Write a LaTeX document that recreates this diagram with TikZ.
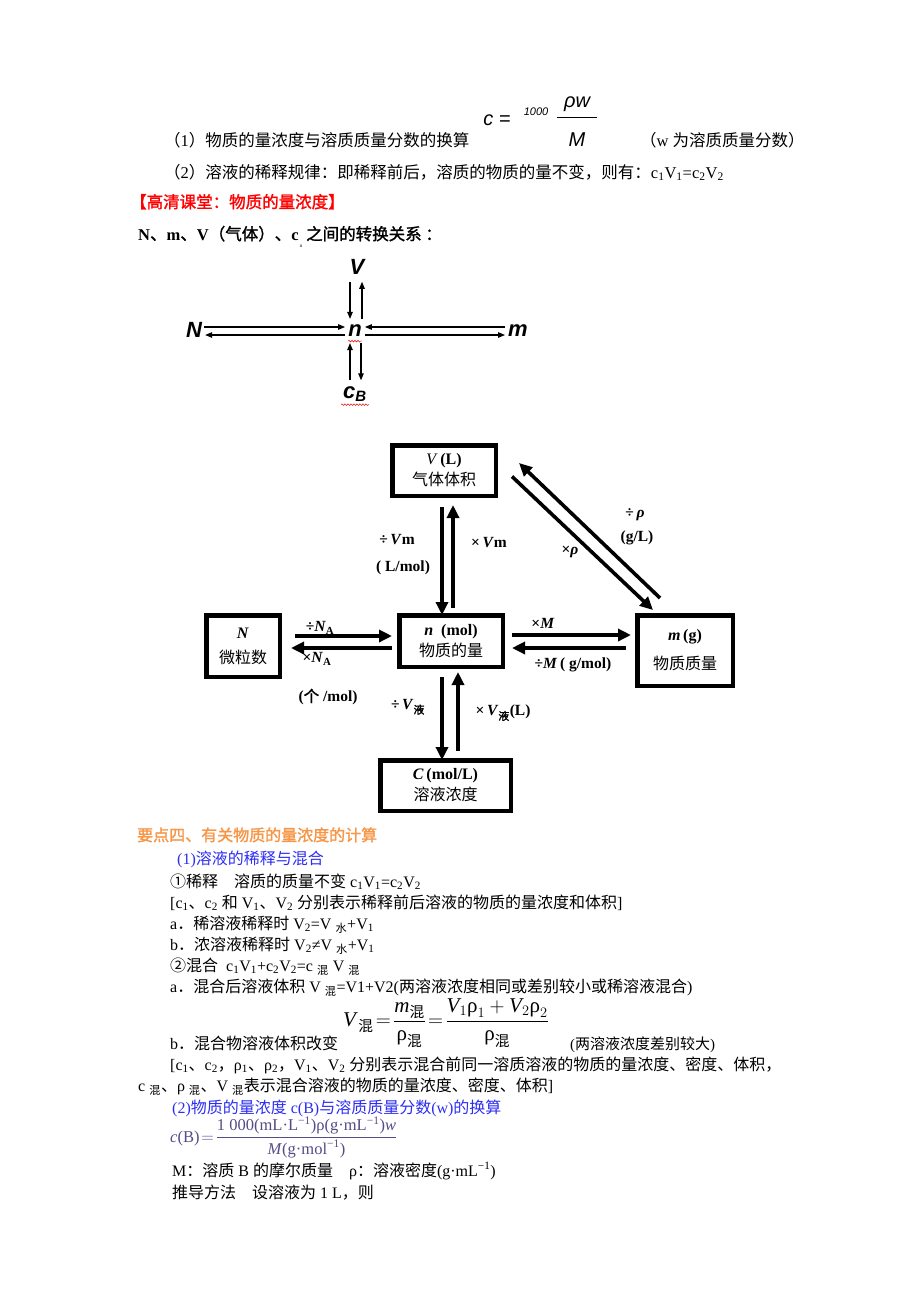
\documentclass[tikz,border=0pt]{standalone}
\usepackage{fontspec}
\usepackage{amsmath}
\usepackage{xcolor}
\usetikzlibrary{arrows.meta}
\usetikzlibrary{decorations.pathmorphing}
\setmainfont{Liberation Serif}
\newfontfamily\cjk{Noto Sans CJK SC}[AutoFakeBold=1.5]
\newfontfamily\arial{Liberation Sans}
\definecolor{titlered}{RGB}{255,0,0}
\definecolor{headorange}{RGB}{247,150,70}
\definecolor{subblue}{RGB}{45,45,245}
\definecolor{formpurple}{RGB}{85,75,135}
\definecolor{spellred}{RGB}{225,40,40}
\newcommand\z[1]{{\cjk #1}}
\newcommand\sub[1]{\textsubscript{#1}}
\newcommand\sups[1]{\textsuperscript{#1}}

\begin{document}
\begin{tikzpicture}[x=1pt,y=-1pt,
	body/.style={anchor=base west,inner sep=0pt,font=\fontsize{16}{20}\selectfont},
	qbox/.style={draw,line width=4.5pt,align=center,inner sep=0pt,font=\fontsize{16}{21}\selectfont},
	fatarr/.style={line width=3.6pt,-{Triangle[length=13pt,width=12pt]}},
	slimarr/.style={line width=1.1pt,-{Triangle[length=7pt,width=5.5pt]}},
	lbl/.style={inner sep=0pt,font=\fontsize{15.5}{18}\selectfont\bfseries},
	sym/.style={inner sep=0pt,font=\arial\bfseries\itshape\fontsize{22}{24}\selectfont},
	wavy/.style={spellred,line width=0.6pt,decorate,decoration={snake,amplitude=0.8pt,segment length=3pt}}]
	\useasboundingbox[fill=white] (0,0) rectangle (920,1302);
	
	% TOP LINES
	\node[inner sep=0pt,font=\arial\itshape\fontsize{20}{22}\selectfont] (fc) at (497,120) {c =};
	\node[inner sep=0pt,font=\arial\itshape\fontsize{11}{12}\selectfont] (f1000) at (536,112) {1000};
	\node[inner sep=1pt,font=\arial\itshape\fontsize{20}{22}\selectfont] (fnum) at (577,104) {ρw};
	\node[inner sep=0pt,font=\arial\itshape\fontsize{20}{22}\selectfont] (fden) at (577,140) {M};
	\draw[line width=0.9pt] ([xshift=-6pt,yshift=-5pt]fnum.south west) -- ([xshift=6pt,yshift=-5pt]fnum.south east);
	\node[body,font=\fontsize{16.5}{20}\selectfont] (t1) at (164,146) {\z{（}1\z{）物质的量浓度与溶质质量分数的换算}};
	\node[body,font=\fontsize{16.5}{20}\selectfont] (t1b) at (640,146) {\z{（}w \z{为溶质质量分数）}};
	\node[body,font=\fontsize{16.5}{20}\selectfont] (t2) at (164,178) {\z{（}2\z{）溶液的稀释规律：即稀释前后，溶质的物质的量不变，则有：}c\sub{1}V\sub{1}=c\sub{2}V\sub{2}};
	\node[body,titlered,font=\fontsize{16.5}{20}\selectfont\bfseries] (t3) at (130,208) {\z{【高清课堂：物质的量浓度】}};
	\node[body,font=\fontsize{16.5}{20}\selectfont\bfseries] (t4) at (138,240) {N\z{、}m\z{、}V\z{（气体）、}c};
	\node[inner sep=0pt,font=\fontsize{5}{6}\selectfont] (t4n) at (301,246) {n};
	\node[body,font=\fontsize{16.5}{20}\selectfont\bfseries] (t4b) at (306,240) {\z{之间的转换关系 ：}};
	
	% SMALL SCHEME
	\node[sym] (sV) at (357,267) {V};
	\node[sym] (sn) at (355,331) {n};
	\node[sym] (sN) at (194,330) {N};
	\node[sym] (sm) at (518,331) {m};
	\node[sym] (sc) at (355,394) {c\textsubscript{\fontsize{15}{16}\selectfont B}};
	\draw[slimarr,shorten <=7pt,shorten >=6pt] ([xshift=-7pt]sV.south) -- ([xshift=-7pt]sV.south |- sn.north);
	\draw[slimarr,shorten <=6pt,shorten >=7pt] ([xshift=5pt]sV.south |- sn.north) -- ([xshift=5pt]sV.south);
	\draw[slimarr,shorten <=2pt,shorten >=3pt] ([yshift=3pt]sN.east) -- ([yshift=3pt]sN.east -| sn.west);
	\draw[slimarr,shorten <=3pt,shorten >=3pt] ([yshift=-5pt]sN.east -| sn.west) -- ([yshift=-5pt]sN.east);
	\draw[slimarr,shorten <=3pt,shorten >=3pt] ([yshift=4pt]sm.west) -- ([yshift=4pt]sm.west -| sn.east);
	\draw[slimarr,shorten <=3pt,shorten >=3pt] ([yshift=-4pt]sm.west -| sn.east) -- ([yshift=-4pt]sm.west);
	\draw[slimarr,shorten <=6pt,shorten >=6pt] ([xshift=-5pt]sc.north |- sc.north) -- ([xshift=-5pt]sc.north |- sn.south);
	\draw[slimarr,shorten <=6pt,shorten >=6pt] ([xshift=6pt]sc.north |- sn.south) -- ([xshift=6pt]sc.north);
	\draw[wavy] ([yshift=-4pt]sn.south west) -- ([yshift=-4pt]sn.south east);
	\draw[wavy] ([xshift=-2pt,yshift=-3pt]sc.south west) -- ([xshift=2pt,yshift=-3pt]sc.south east);
	
	% BOXES
	\node[qbox,minimum width=103.5pt,minimum height=50.5pt] (bV) at (444,470.5)
	{\textit{V}\,\textbf{(L)}\\\z{气体体积}};
	\node[qbox,minimum width=103.5pt,minimum height=51.5pt] (bn) at (451,641)
	{\textbf{\textit{n}}\ \ \textbf{(mol)}\\\z{物质的量}};
	\node[qbox,minimum width=73.5pt,minimum height=61.5pt] (bN) at (243,646)
	{\textbf{\textit{N}}\\[4pt]\z{微粒数}};
	\node[qbox,minimum width=95.5pt,minimum height=70.5pt] (bm) at (685,650.5)
	{\textbf{\textit{m}}\,\textbf{(g)}\\[8pt]\z{物质质量}};
	\node[qbox,minimum width=130.5pt,minimum height=50.5pt] (bC) at (445.5,785.5)
	{\textbf{\textit{C}}\,\textbf{(mol/L)}\\\z{溶液浓度}};
	
	% FAT ARROWS
	\draw[fatarr,shorten <=9pt,shorten >=-2pt] ([xshift=-2pt]bV.south) -- ([xshift=-2pt]bV.south |- bn.north);
	\draw[fatarr,shorten <=5pt,shorten >=7pt] ([xshift=9pt]bV.south |- bn.north) -- ([xshift=9pt]bV.south);
	\draw[fatarr,shorten <=13pt,shorten >=5pt] ([yshift=5pt]bN.east |- bn.center) -- ([yshift=5pt]bn.west);
	\draw[fatarr,shorten <=5pt,shorten >=9pt] ([yshift=-7pt]bn.west) -- ([yshift=-7pt]bN.east |- bn.center);
	\draw[fatarr,shorten <=7pt,shorten >=4pt] ([yshift=6pt]bn.east) -- ([yshift=6pt]bn.east -| bm.west);
	\draw[fatarr,shorten <=9pt,shorten >=7pt] ([yshift=-7pt]bn.east -| bm.west) -- ([yshift=-7pt]bn.east);
	\draw[fatarr,shorten <=8pt,shorten >=-2pt] ([xshift=-9pt]bn.south) -- ([xshift=-9pt]bn.south |- bC.north);
	\draw[fatarr,shorten <=7pt,shorten >=3pt] ([xshift=7pt]bn.south |- bC.north) -- ([xshift=7pt]bn.south);
	\coordinate (dgA) at ([shift={(21,20)}]bV.north east);
	\coordinate (dgB) at ([shift={(-25,-15)}]bm.north);
	\coordinate (dgC) at ([shift={(14,6)}]bV.east);
	\coordinate (dgD) at ([shift={(-32,-3)}]bm.north);
	\draw[fatarr] (dgB) -- (dgA);
	\draw[fatarr] (dgC) -- (dgD);
	
	% LABELS
	\node[lbl] (lVm1) at (397,540) {÷\,\textit{V}m};
	\node[lbl] (lVm2) at (403,568) {( L/mol)};
	\node[lbl] (lVm3) at (489,543) {×\,\textit{V}m};
	\node[lbl] (lrho1) at (635,515) {÷\,\textit{ρ}};
	\node[lbl] (lrho2) at (637,538) {(g/L)};
	\node[lbl] (lrho3) at (570,552) {×\textit{ρ}};
	\node[lbl] (lNA1) at (320,628) {÷\textit{N}\sub{A}};
	\node[lbl] (lNA2) at (317,659) {×\textit{N}\sub{A}};
	\node[lbl] (lNA3) at (328,697) {(\z{个} /mol)};
	\node[lbl] (lM1) at (543,623) {×\textit{M}};
	\node[lbl] (lM2) at (573,665) {÷\textit{M}\,( g/mol)};
	\node[lbl] (lVl1) at (408,707) {÷\,\textit{V}\sub{\z{液}}};
	\node[lbl] (lVl2) at (503,713) {×\,\textit{V}\sub{\z{液}}(L)};
	
	% LOWER TEXT
	\node[body,headorange,font=\fontsize{16}{20}\selectfont\bfseries] (h4) at (137,841) {\z{要点四、有关物质的量浓度的计算}};
	\node[body,subblue] (h41) at (177,864) {(1)\z{溶液的稀释与混合}};
	\node[body] (r1) at (170,887) {\z{①稀释　溶质的质量不变} c\sub{1}V\sub{1}=c\sub{2}V\sub{2}};
	\node[body] (r2) at (170,908) {[c\sub{1}\z{、}c\sub{2} \z{和} V\sub{1}\z{、}V\sub{2} \z{分别表示稀释前后溶液的物质的量浓度和体积}]};
	\node[body] (r3) at (170,929) {a\z{．稀溶液稀释时} V\sub{2}=V \sub{\z{水}}+V\sub{1}};
	\node[body] (r4) at (170,950) {b\z{．浓溶液稀释时} V\sub{2}≠V \sub{\z{水}}+V\sub{1}};
	\node[body] (r5) at (170,971) {\z{②混合}\ \ c\sub{1}V\sub{1}+c\sub{2}V\sub{2}=c \sub{\z{混}} V \sub{\z{混}}};
	\node[body] (r6) at (170,992) {a\z{．混合后溶液体积} V \sub{\z{混}}=V1+V2(\z{两溶液浓度相同或差别较小或稀溶液混合})};
	\node[anchor=west,inner sep=0pt,font=\fontsize{21}{24}\selectfont] (vmix) at (343,1023)
	{$\textit{V}_{\,\text{\z{混}}}\!=\!\dfrac{\textit{m}_{\text{\z{混}}}}{\text{ρ}_{\text{\z{混}}}}\!=\!\dfrac{\textit{V}_1\text{ρ}_1+\textit{V}_2\text{ρ}_2}{\text{ρ}_{\text{\z{混}}}}$};
	\node[body] (r7) at (170,1049) {b\z{．混合物溶液体积改变}};
	\node[body,font=\fontsize{15}{20}\selectfont] (r7b) at (570,1049) {(\z{两溶液浓度差别较大})};
	\node[body] (r8) at (170,1070) {[c\sub{1}\z{、}c\sub{2}\z{，}ρ\sub{1}\z{、}ρ\sub{2}\z{，}V\sub{1}\z{、}V\sub{2} \z{分别表示混合前同一溶质溶液的物质的量浓度、密度、体积，}};
	\node[body] (r9) at (138,1091) {c \sub{\z{混}}\z{、}ρ \sub{\z{混}}\z{、}V \sub{\z{混}}\z{表示混合溶液的物质的量浓度、密度、体积}]};
	\node[body,subblue] (h42) at (172,1113) {(2)\z{物质的量浓度} c(B)\z{与溶质质量分数}(w)\z{的换算}};
	\node[anchor=west,inner sep=0pt,formpurple,font=\fontsize{16.5}{19}\selectfont] (cbf) at (170,1137)
	{$\textit{c}\text{(B)}\!=\!\dfrac{\text{1 000(mL·L\sups{−1})ρ(g·mL\sups{−1})\textit{w}}}{\text{\textit{M}(g·mol\sups{−1})}}$};
	\node[body] (r10) at (172,1176) {M\z{：溶质} B \z{的摩尔质量　}ρ\z{：溶液密度}(g·mL\sups{−1})};
	\node[body] (r11) at (172,1198) {\z{推导方法　设溶液为} 1 L\z{，则}};
	
\end{tikzpicture}
\end{document}
